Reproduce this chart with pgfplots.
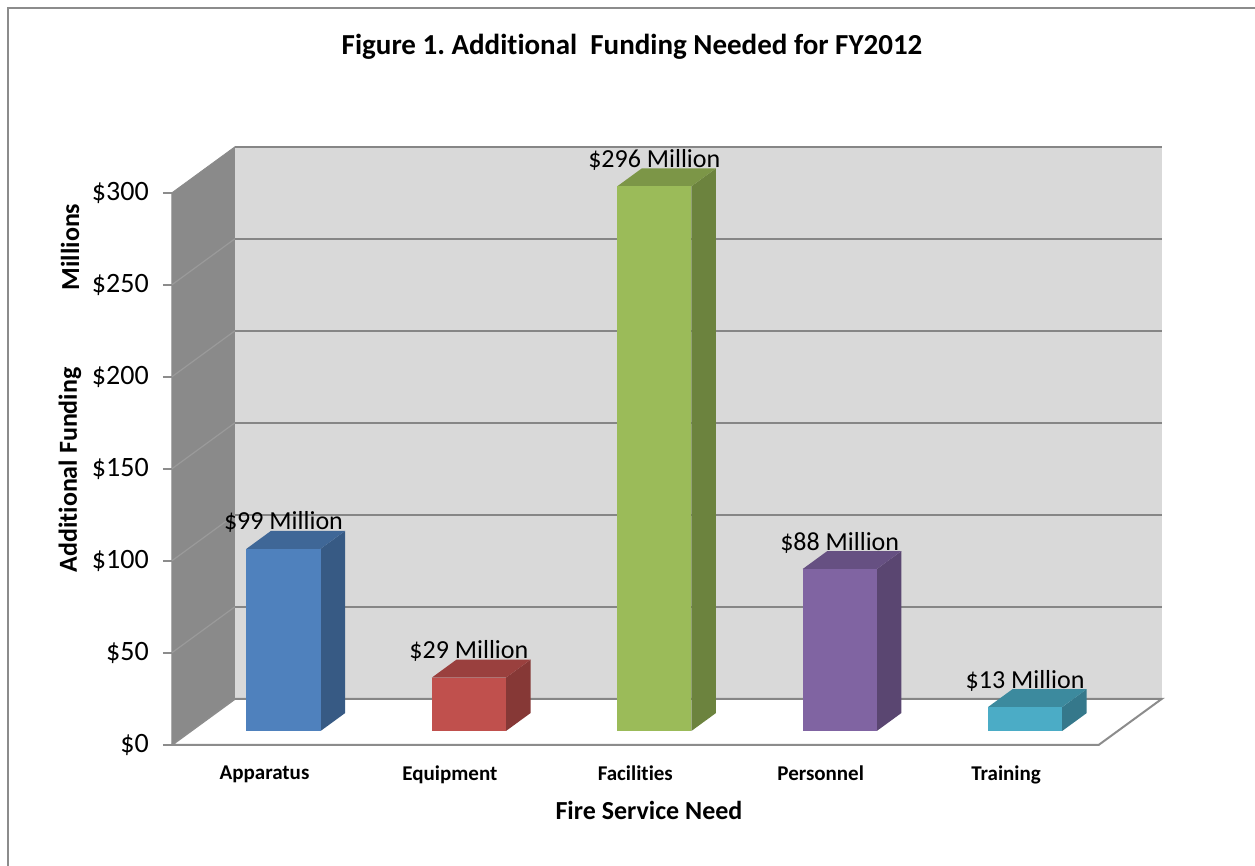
\documentclass[border=0pt]{standalone}
\usepackage{fontspec}
\setmainfont[Ligatures=NoCommon]{Carlito}
\usepackage{pgfplots}
\pgfplotsset{compat=1.18}
\frenchspacing

\definecolor{wallback}{HTML}{D9D9D9}
\definecolor{wallside}{HTML}{8A8A8A}
\definecolor{gridc}{HTML}{868686}
\definecolor{sidegrid}{HTML}{9A9A9A}
\definecolor{framec}{HTML}{8C8C8C}
\definecolor{cA}{HTML}{4F81BD}
\definecolor{cE}{HTML}{C0504D}
\definecolor{cF}{HTML}{9BBB59}
\definecolor{cP}{HTML}{8064A2}
\definecolor{cT}{HTML}{4BACC6}

% right side face and top face of a bar: #1 = position, #2 = value, #3 = colour
\newcommand{\barsides}[3]{%
  \pgfmathsetmacro\xr{#1+0.2}%
  \pgfmathsetmacro\xrb{#1+0.3325}%
  \pgfmathsetmacro\xlb{#1-0.0675}%
  \pgfmathsetmacro\xl{#1-0.2}%
  \pgfmathsetmacro\yt{#2}%
  \pgfmathsetmacro\ytb{#2+9.75}%
  \addplot[fill=#3!70!black, draw=none, forget plot] coordinates {(\xr,0) (\xrb,9.75) (\xrb,\ytb) (\xr,\yt)} -- cycle;
  \addplot[fill=#3!80!black, draw=none, forget plot] coordinates {(\xl,\yt) (\xr,\yt) (\xrb,\ytb) (\xlb,\ytb)} -- cycle;
}
% tick mark on the front edge at value #1
\newcommand{\fronttick}[1]{%
  \pgfmathsetmacro\ty{#1-7.5}%
  \addplot[framec, line width=1pt, forget plot] coordinates {(-0.651,\ty) (-0.602,\ty)};
}

\begin{document}
\begin{tikzpicture}
\useasboundingbox (0,0) rectangle (627.5pt,433pt);
\draw[framec, line width=1pt] (4.2pt,0) -- (4.2pt,429pt) -- (627.5pt,429pt);

\begin{axis}[
  at={(95.4pt,67.5pt)}, anchor=south west,
  scale only axis, width=463.5pt, height=276pt,
  xmin=-0.5, xmax=4.5, ymin=0, ymax=300,
  clip=false,
  axis line style={draw=none},
  /pgf/number format/assume math mode=true,
  xtick={0,1,2,3,4},
  xticklabels={Apparatus,Equipment,Facilities,Personnel,Training},
  x tick style={draw=none},
  xticklabel style={font=\fontsize{10.5}{12}\selectfont\bfseries, xshift=-9.5pt, yshift=-14pt},
  ytick={0,50,...,300},
  yticklabel={\$\pgfmathprintnumber{\tick}},
  y tick style={draw=none},
  yticklabel style={font=\fontsize{14}{16}\selectfont, xshift=-17.5pt, yshift=-7pt},
]
% side wall
\addplot[fill=wallside, draw=wallside, forget plot] coordinates {(-0.602,-7.5) (-0.262,17.5) (-0.262,317.5) (-0.602,292.5)} -- cycle;
% back wall
\addplot[fill=wallback, draw=none, forget plot] coordinates {(-0.262,17.5) (4.738,17.5) (4.738,317.5) (-0.262,317.5)} -- cycle;
% floor
\addplot[fill=white, draw=framec, line width=1pt, forget plot] coordinates {(-0.602,-7.5) (4.398,-7.5) (4.738,17.5) (-0.262,17.5)} -- cycle;
% back wall grid lines
\addplot[gridc, line width=1pt, forget plot] coordinates {(-0.262,17.5) (4.738,17.5)};
\addplot[gridc, line width=1pt, forget plot] coordinates {(-0.262,67.5) (4.738,67.5)};
\addplot[gridc, line width=1pt, forget plot] coordinates {(-0.262,117.5) (4.738,117.5)};
\addplot[gridc, line width=1pt, forget plot] coordinates {(-0.262,167.5) (4.738,167.5)};
\addplot[gridc, line width=1pt, forget plot] coordinates {(-0.262,217.5) (4.738,217.5)};
\addplot[gridc, line width=1pt, forget plot] coordinates {(-0.262,267.5) (4.738,267.5)};
\addplot[gridc, line width=1pt, forget plot] coordinates {(-0.262,317.5) (4.738,317.5)};
% side wall grid lines
\addplot[sidegrid, line width=0.6pt, forget plot] coordinates {(-0.602,42.5) (-0.262,67.5)};
\addplot[sidegrid, line width=0.6pt, forget plot] coordinates {(-0.602,92.5) (-0.262,117.5)};
\addplot[sidegrid, line width=0.6pt, forget plot] coordinates {(-0.602,142.5) (-0.262,167.5)};
\addplot[sidegrid, line width=0.6pt, forget plot] coordinates {(-0.602,192.5) (-0.262,217.5)};
\addplot[sidegrid, line width=0.6pt, forget plot] coordinates {(-0.602,242.5) (-0.262,267.5)};
% front edge tick marks
\fronttick{0}\fronttick{50}\fronttick{100}\fronttick{150}\fronttick{200}\fronttick{250}\fronttick{300}

% 3D sides of bars
\barsides{0}{99}{cA}
\barsides{1}{29}{cE}
\barsides{2}{296}{cF}
\barsides{3}{88}{cP}
\barsides{4}{13}{cT}

% bars (front faces)
\pgfplotsset{barlab/.style={ybar, bar width=0.4, bar shift=0pt, draw=none,
  nodes near coords={\$\pgfmathprintnumber{\pgfplotspointmeta} Million},
  nodes near coords style={font=\fontsize{13}{15}\selectfont, text=black, anchor=base, yshift=9.5pt}}}
\addplot[barlab, fill=cA] coordinates {(0,99)};
\addplot[barlab, fill=cE] coordinates {(1,29)};
\addplot[barlab, fill=cF] coordinates {(2,296)};
\addplot[barlab, fill=cP] coordinates {(3,88)};
\addplot[barlab, fill=cT] coordinates {(4,13)};
\end{axis}

\node[font=\fontsize{14.5}{17}\selectfont\bfseries] at (316pt,409.5pt) {Figure 1. Additional\ \ Funding Needed for FY2012};
\node[font=\fontsize{13}{15}\selectfont\bfseries] at (324.5pt,28pt) {Fire Service Need};
\node[font=\fontsize{13}{15}\selectfont\bfseries, rotate=90] at (35pt,198pt) {Additional Funding};
\node[font=\fontsize{13}{15}\selectfont\bfseries, rotate=90] at (35pt,309.5pt) {Millions};
\end{tikzpicture}
\end{document}
